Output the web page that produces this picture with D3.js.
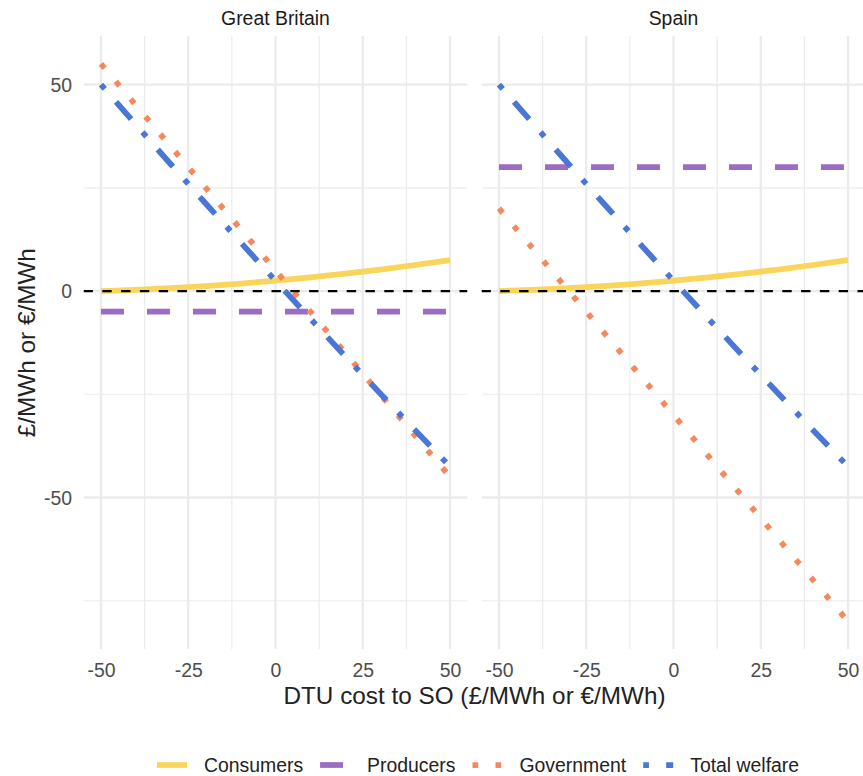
<!DOCTYPE html>
<html>
<head>
<meta charset="utf-8">
<script src="https://cdn.jsdelivr.net/npm/d3@7"></script>
<style>
  body { margin: 0; background: #fff; }
  svg { display: block; font-family: "Liberation Sans", Arial, sans-serif; }
</style>
</head>
<body>
<div id="graph"></div>
<script>
// values
const regions = ['Great Britain', 'Spain'];
const xs = [-50, -40, -30, -20, -10, 0, 10, 20, 30, 40, 50];
const consumers = [0, 0.3, 0.7, 1.2, 1.8, 2.5, 3.3, 4.2, 5.2, 6.3, 7.5];
const producersGB = [-5, -5, -5, -5, -5, -5, -5, -5, -5, -5, -5];
const producersES = [30, 30, 30, 30, 30, 30, 30, 30, 30, 30, 30];
const governmentGB = [55, 45, 35, 25, 15, 5, -5, -15, -25, -35, -45];
const governmentES = [20, 10, 0, -10, -20, -30, -40, -50, -60, -70, -80];
const welfare = [50, 40.3, 30.7, 21.2, 11.8, 2.5, -6.7, -15.8, -24.8, -33.7, -42.5];
const xTicks = [-50, -25, 0, 25, 50];
const xMinor = [-37.5, -12.5, 12.5, 37.5];
const yTicks = [-50, 0, 50];
const yMinor = [-75, -25, 25];
const seriesNames = ['Consumers', 'Producers', 'Government', 'Total welfare'];

const panelData = {
  'Great Britain': [consumers, producersGB, governmentGB, welfare],
  'Spain': [consumers, producersES, governmentES, welfare]
};

const colors = ['#F9D55B', '#9B6DC2', '#F6895C', '#4A77D6'];
const lw = 5.75;
const dashes = [null, [4 * lw, 4 * lw], [lw, 3 * lw], [lw, 3 * lw, 4 * lw, 3 * lw]];

var W = 863, H = 776,
    panels = [[83.5, 467.5], [481.5, 865.5]],
    padt = 36, padb = 649.3;

var svg = d3.select('#graph').append('svg')
    .attr('width', W).attr('height', H);

var y = d3.scaleLinear().domain([-86.75, 61.75]).range([padb, padt]);
var fmt = d => String(d);

svg.append('defs').selectAll('clipPath')
  .data(panels).enter().append('clipPath')
  .attr('id', (d, i) => 'clip' + i)
  .append('rect')
  .attr('x', d => d[0]).attr('y', padt)
  .attr('width', d => d[1] - d[0]).attr('height', padb - padt);

regions.forEach(function (name, i) {
  var x = d3.scaleLinear().domain([-55, 55]).range(panels[i]);
  var g = svg.append('g');
  var cg = g.append('g').attr('clip-path', 'url(#clip' + i + ')');

  // minor grid
  cg.selectAll('line.xminor').data(xMinor).enter().append('line')
    .attr('x1', d => x(d)).attr('x2', d => x(d))
    .attr('y1', padt).attr('y2', padb)
    .attr('stroke', '#EBEBEB').attr('stroke-width', 1.2);
  cg.selectAll('line.yminor').data(yMinor).enter().append('line')
    .attr('x1', panels[i][0]).attr('x2', panels[i][1])
    .attr('y1', d => y(d)).attr('y2', d => y(d))
    .attr('stroke', '#EBEBEB').attr('stroke-width', 1.2);
  // major grid
  cg.selectAll('line.xmajor').data(xTicks).enter().append('line')
    .attr('x1', d => x(d)).attr('x2', d => x(d))
    .attr('y1', padt).attr('y2', padb)
    .attr('stroke', '#EBEBEB').attr('stroke-width', 2.3);
  cg.selectAll('line.ymajor').data(yTicks).enter().append('line')
    .attr('x1', panels[i][0]).attr('x2', panels[i][1])
    .attr('y1', d => y(d)).attr('y2', d => y(d))
    .attr('stroke', '#EBEBEB').attr('stroke-width', 2.3);

  // series
  var line = d3.line().x((d, j) => x(xs[j])).y(d => y(d)).curve(d3.curveMonotoneX);
  panelData[name].forEach(function (vals, k) {
    cg.append('path')
      .attr('d', line(vals))
      .attr('fill', 'none')
      .attr('stroke', colors[k])
      .attr('stroke-width', lw)
      .attr('stroke-linecap', 'butt')
      .attr('stroke-dasharray', dashes[k] ? dashes[k].join(' ') : null);
  });

  // zero reference
  cg.append('line')
    .attr('x1', panels[i][0]).attr('x2', panels[i][1])
    .attr('y1', y(0)).attr('y2', y(0))
    .attr('stroke', '#000').attr('stroke-width', 2.3)
    .attr('stroke-dasharray', '9.4 9.4');

  // strip
  g.append('text')
    .attr('x', (panels[i][0] + panels[i][1]) / 2).attr('y', 25)
    .attr('text-anchor', 'middle')
    .attr('font-size', 19.4).attr('fill', '#1A1A1A')
    .text(name);

  // x axis
  var xAxis = d3.axisBottom(x).tickValues(xTicks).tickFormat(fmt).tickSize(0).tickPadding(0);
  var ax = g.append('g').attr('transform', 'translate(0,' + 677 + ')').call(xAxis);
  ax.select('.domain').remove();
  ax.selectAll('text').attr('dy', 0).attr('font-size', 19.4)
    .attr('fill', '#4D4D4D').attr('font-family', 'Liberation Sans, Arial, sans-serif');
});

// y axis
var yAxis = d3.axisLeft(y).tickValues(yTicks).tickFormat(fmt).tickSize(0).tickPadding(0);
var ay = svg.append('g').attr('transform', 'translate(72,0)').call(yAxis);
ay.select('.domain').remove();
ay.selectAll('text').attr('dy', '0.35em').attr('font-size', 19.4)
  .attr('fill', '#4D4D4D').attr('font-family', 'Liberation Sans, Arial, sans-serif');

// axis titles
svg.append('text')
  .attr('x', (panels[0][0] + panels[1][1]) / 2).attr('y', 704)
  .attr('text-anchor', 'middle').attr('font-size', 24.3).attr('fill', '#222')
  .text('DTU cost to SO (£/MWh or €/MWh)');
svg.append('text')
  .attr('transform', 'translate(35,' + ((padt + padb) / 2) + ') rotate(-90)')
  .attr('text-anchor', 'middle').attr('font-size', 24.3).attr('fill', '#222')
  .text('£/MWh or €/MWh');

// legend
var legend = svg.append('g');
var cx = 0;
seriesNames.forEach(function (name, k) {
  var item = legend.append('g').attr('transform', 'translate(' + cx + ',0)');
  item.append('line')
    .attr('x1', 0).attr('x2', 30).attr('y1', 765).attr('y2', 765)
    .attr('stroke', colors[k]).attr('stroke-width', lw)
    .attr('stroke-dasharray', dashes[k] ? dashes[k].join(' ') : null);
  var t = item.append('text')
    .attr('x', 47).attr('y', 772)
    .attr('font-size', 19.4).attr('fill', '#222')
    .text(name);
  cx += 47 + t.node().getComputedTextLength() + 17;
});
var legendW = cx - 17;
legend.attr('transform', 'translate(' + (478 - legendW / 2) + ',0)');
</script>
</body>
</html>
